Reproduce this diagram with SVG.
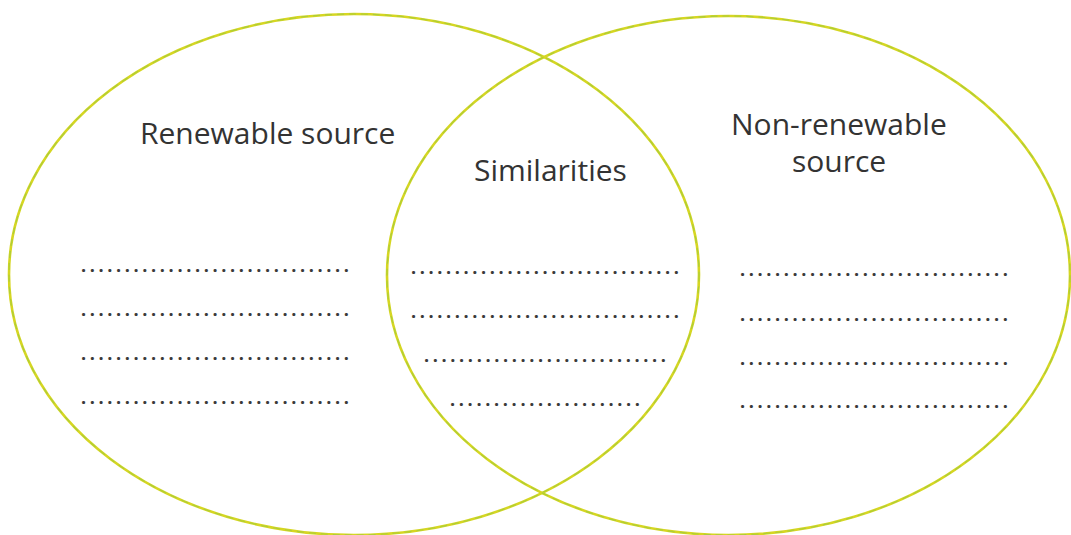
<svg xmlns="http://www.w3.org/2000/svg" width="1071" height="535" viewBox="0 0 1071 535">
  <style>
    .ring { fill: none; stroke: #d6d622; stroke-width: 2.6; }
    .ring-tint { fill: none; stroke: #8cc84a; stroke-width: 1.1; stroke-dasharray: 7 5; opacity: 0.6; }
    .label { font-family: "Open Sans", "Noto Sans", sans-serif; font-size: 30px; fill: #333333; }
    .dots { font-family: "Open Sans", "Noto Sans", sans-serif; font-size: 18px; font-weight: bold; fill: #3a3a3a; }
  </style>
  <rect width="1071" height="535" fill="#ffffff"/>

  <!-- Renewable source set -->
  <g id="renewable">
    <ellipse class="ring" cx="354" cy="274.5" rx="345" ry="260.5"/>
    <ellipse class="ring-tint" cx="354" cy="274.5" rx="345" ry="260.5"/>
    <text class="label" x="140" y="144">Renewable source</text>
    <text class="dots" x="81" y="272" textLength="268" lengthAdjust="spacing">...............................</text>
    <text class="dots" x="81" y="316" textLength="268" lengthAdjust="spacing">...............................</text>
    <text class="dots" x="81" y="360" textLength="268" lengthAdjust="spacing">...............................</text>
    <text class="dots" x="81" y="404" textLength="268" lengthAdjust="spacing">...............................</text>
  </g>

  <!-- Non-renewable source set -->
  <g id="non-renewable">
    <ellipse class="ring" cx="728.5" cy="275.5" rx="341.5" ry="259.5"/>
    <ellipse class="ring-tint" cx="728.5" cy="275.5" rx="341.5" ry="259.5"/>
    <text class="label" x="731" y="135">Non-renewable</text>
    <text class="label" x="792" y="172">source</text>
    <text class="dots" x="740" y="276" textLength="268" lengthAdjust="spacing">...............................</text>
    <text class="dots" x="740" y="321" textLength="268" lengthAdjust="spacing">...............................</text>
    <text class="dots" x="740" y="365" textLength="268" lengthAdjust="spacing">...............................</text>
    <text class="dots" x="740" y="408" textLength="268" lengthAdjust="spacing">...............................</text>
  </g>

  <!-- Overlap: similarities -->
  <g id="similarities">
    <text class="label" x="474" y="181">Similarities</text>
    <text class="dots" x="411" y="274" textLength="268" lengthAdjust="spacing">...............................</text>
    <text class="dots" x="411" y="318" textLength="268" lengthAdjust="spacing">...............................</text>
    <text class="dots" x="424" y="362" textLength="242" lengthAdjust="spacing">............................</text>
    <text class="dots" x="450" y="406" textLength="190" lengthAdjust="spacing">......................</text>
  </g>
</svg>
